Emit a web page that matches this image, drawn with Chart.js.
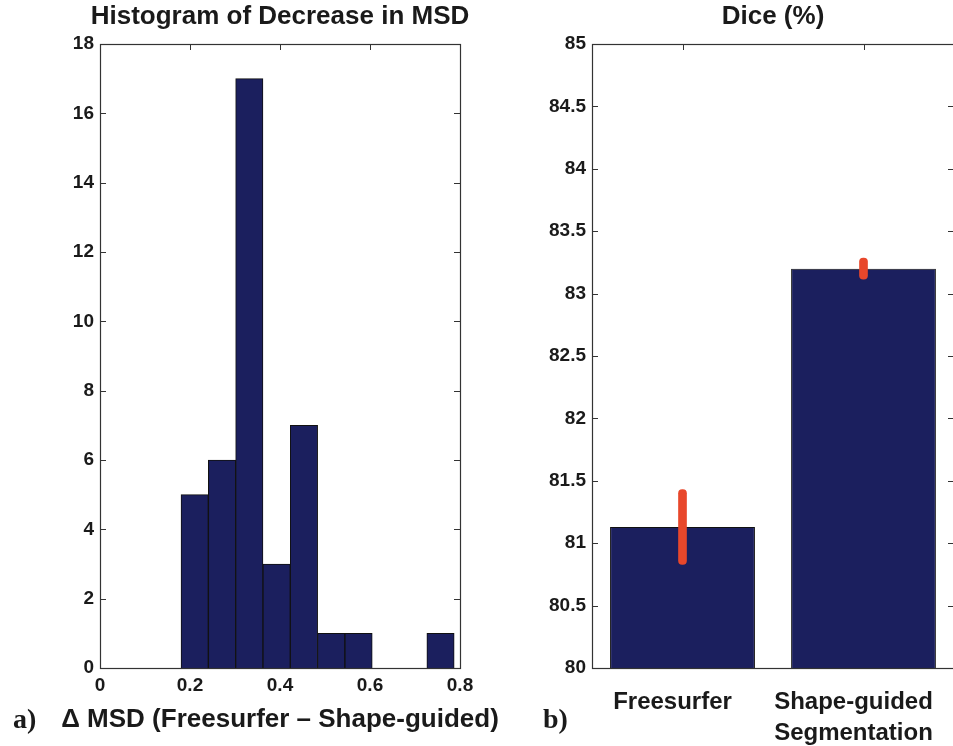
<!DOCTYPE html>
<html>
<head>
<meta charset="utf-8">
<title>MSD decrease and Dice</title>
<script src="https://cdn.jsdelivr.net/npm/chart.js@4.4.1/dist/chart.umd.min.js"></script>
<style>
    html, body { margin: 0; padding: 0; background: #fff; overflow: hidden; }
    body { width: 953px; height: 746px; position: relative; }
    .panel { position: absolute; top: 0; height: 746px; }
    #histWrap { left: 0; width: 500px; }
    #diceWrap { left: 500px; width: 460px; }
    .tag { position: absolute; font: bold 28px "Liberation Serif", "Times New Roman", serif; color: #1a1a1a; line-height: 30px; }
</style>
</head>
<body>
<div class="panel" id="histWrap"><canvas id="histChart"></canvas></div>
<div class="panel" id="diceWrap"><canvas id="diceChart"></canvas></div>
<div class="tag" style="left:13px; top:704px;">a)</div>
<div class="tag" style="left:543px; top:704px;">b)</div>

<script>
// histogram of the MSD decrease, 10 equal bins
const binCenters = [0.2104, 0.2711, 0.3318, 0.3925, 0.4532, 0.5139, 0.5746, 0.6353, 0.6960, 0.7567];
const binCounts = [5, 6, 17, 3, 7, 1, 1, 0, 0, 1];
const histTicksX = [0, 0.2, 0.4, 0.6, 0.8];
const histTicksY = [0, 2, 4, 6, 8, 10, 12, 14, 16, 18];

// mean Dice (%) per method and its error
const methods = ['Freesurfer', ['Shape-guided', 'Segmentation']];
const methodPos = [1, 2];
const diceMean = [81.13, 83.2];
const diceErr = [0.3, 0.085];
const diceTicksY = [80, 80.5, 81, 81.5, 82, 82.5, 83, 83.5, 84, 84.5, 85];

const navy = '#1b1f5e';
const red = '#e8472b';
const ink = '#1a1a1a';
const sans = '"Liberation Sans", Arial, Helvetica, sans-serif';

Chart.defaults.font.family = sans;
Chart.defaults.font.weight = 'bold';
Chart.defaults.color = ink;

// box around the plot area with inward tick marks on all four sides
const boxTicks = {
    id: 'boxTicks',
    beforeDatasetsDraw(chart) {
        const { ctx, chartArea: a, scales: { x, y } } = chart;
        const len = 6;
        ctx.save();
        ctx.strokeStyle = '#333';
        ctx.lineWidth = 1;
        ctx.beginPath();
        x.ticks.forEach(t => {
            const px = Math.round(x.getPixelForValue(t.value)) + 0.5;
            ctx.moveTo(px, a.top); ctx.lineTo(px, a.top + len);
            ctx.moveTo(px, a.bottom); ctx.lineTo(px, a.bottom - len);
        });
        y.ticks.forEach(t => {
            const py = Math.round(y.getPixelForValue(t.value)) + 0.5;
            ctx.moveTo(a.left, py); ctx.lineTo(a.left + len, py);
            ctx.moveTo(a.right, py); ctx.lineTo(a.right - len, py);
        });
        ctx.stroke();
        ctx.restore();
    },
    afterDatasetsDraw(chart) {
        const { ctx, chartArea: a } = chart;
        ctx.save();
        ctx.strokeStyle = '#333';
        ctx.lineWidth = 1.2;
        ctx.strokeRect(Math.round(a.left) + 0.5, Math.round(a.top) + 0.5,
            Math.round(a.right - a.left), Math.round(a.bottom - a.top));
        ctx.restore();
    }
};

// heading above and caption below the plot, centred on the plot area
// (drawn at natural width, the built-in title squeezes text to the plot width)
const headings = {
    id: 'headings',
    afterDraw(chart, args, opts) {
        const { ctx, chartArea: a } = chart;
        const cx = (a.left + a.right) / 2;
        ctx.save();
        ctx.fillStyle = ink;
        ctx.textAlign = 'center';
        ctx.textBaseline = 'middle';
        ctx.font = 'bold 26px ' + sans;
        if (opts.top) ctx.fillText(opts.top, cx, opts.topY);
        if (opts.bottom) ctx.fillText(opts.bottom, cx, opts.bottomY);
        ctx.restore();
    }
};

const setTicks = list => scale => { scale.ticks = list.map(v => ({ value: v })); };
const plainNum = v => String(+(+v).toFixed(3));
// fixed axis band; labels may hang over the edges without shrinking the plot
const fixHeight = h => s => { s.height = h; s.paddingLeft = 0; s.paddingRight = 0; };

// a) histogram
new Chart(document.getElementById('histChart'), {
    type: 'bar',
    data: {
        datasets: [{
            data: binCenters.map((c, i) => ({ x: c, y: binCounts[i] })),
            backgroundColor: navy,
            borderColor: '#111',
            borderWidth: 1,
            barPercentage: 1,
            categoryPercentage: 1
        }]
    },
    options: {
        responsive: true,
        maintainAspectRatio: false,
        animation: false,
        layout: { padding: { left: 0, right: 40, top: 44, bottom: 0 } },
        plugins: {
            legend: { display: false },
            tooltip: { enabled: false },
            headings: {
                top: 'Histogram of Decrease in MSD', topY: 17,
                bottom: 'Δ MSD (Freesurfer – Shape-guided)', bottomY: 720
            }
        },
        scales: {
            x: {
                type: 'linear',
                min: 0,
                max: 0.8,
                offset: false,
                afterBuildTicks: setTicks(histTicksX),
                afterFit: fixHeight(78),
                grid: { display: false, drawTicks: false, offset: false },
                border: { display: false },
                ticks: { padding: 6, font: { size: 19 }, maxRotation: 0, autoSkip: false, callback: plainNum }
            },
            y: {
                min: 0,
                max: 18,
                afterBuildTicks: setTicks(histTicksY),
                afterFit: s => { s.width = 100; },
                grid: { display: false, drawTicks: false },
                border: { display: false },
                ticks: { padding: 6, font: { size: 19 }, callback: plainNum }
            }
        }
    },
    plugins: [boxTicks, headings]
});

// b) Dice bars with error bars
new Chart(document.getElementById('diceChart'), {
    type: 'bar',
    data: {
        datasets: [{
            data: methodPos.map((p, i) => ({ x: p, y: diceMean[i] })),
            base: diceTicksY[0],
            backgroundColor: navy,
            borderColor: '#111',
            borderWidth: 1,
            barPercentage: 1,
            categoryPercentage: 0.8,
            grouped: false,
            order: 2
        }, {
            data: methodPos.map((p, i) => ({ x: p, y: [diceMean[i] - diceErr[i], diceMean[i] + diceErr[i]] })),
            backgroundColor: red,
            borderWidth: 0,
            borderSkipped: false,
            borderRadius: 4,
            barThickness: 8,
            grouped: false,
            order: 1
        }]
    },
    options: {
        responsive: true,
        maintainAspectRatio: false,
        animation: false,
        layout: { padding: { left: 0, right: 6, top: 44, bottom: 0 } },
        plugins: {
            legend: { display: false },
            tooltip: { enabled: false },
            headings: { top: 'Dice (%)', topY: 17 }
        },
        scales: {
            x: {
                type: 'linear',
                min: 0.5,
                max: 2.5,
                offset: false,
                afterBuildTicks: setTicks(methodPos),
                afterFit: fixHeight(78),
                grid: { display: false, drawTicks: false, offset: false },
                border: { display: false },
                ticks: {
                    padding: 19,
                    labelOffset: -10,
                    font: { size: 24, lineHeight: 1.3 },
                    maxRotation: 0,
                    autoSkip: false,
                    callback: v => methods[Math.round(v) - 1]
                }
            },
            y: {
                min: diceTicksY[0],
                max: diceTicksY[diceTicksY.length - 1],
                afterBuildTicks: setTicks(diceTicksY),
                afterFit: s => { s.width = 92; },
                grid: { display: false, drawTicks: false },
                border: { display: false },
                ticks: { padding: 6, font: { size: 19 }, callback: plainNum }
            }
        }
    },
    plugins: [boxTicks, headings]
});
</script>
</body>
</html>
